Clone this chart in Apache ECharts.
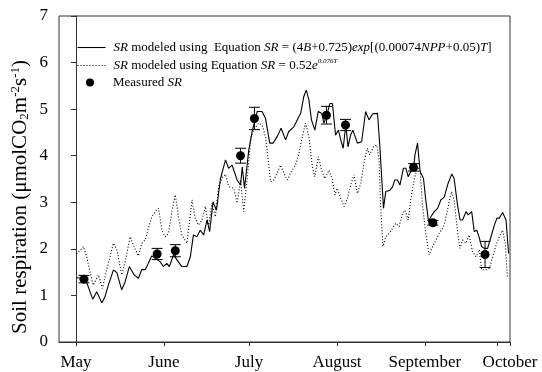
<!DOCTYPE html>
<html>
<head>
<meta charset="utf-8">
<script src="https://cdn.jsdelivr.net/npm/echarts@6/dist/echarts.min.js"></script>
<style>html,body{margin:0;padding:0;background:#fff;}#c{width:542px;height:372px;}</style>
</head>
<body>
<div id="c"></div>
<script>
// Days counted from May 1 (day 0)
const monthTicks = [0, 31, 61, 92, 123, 153];
const monthLabels = ['May', 'June', 'July', 'August', 'September', 'October'];
const tickValues = [0, 31, 61, 92, 123, 148.5, 153];

const solidDays = [0.2,3.2,5.9,7.3,9.1,10.2,11.4,13.2,14.4,16.1,17.3,18.8,20.5,22,23.2,24.4,25.5,26.7,27.9,29.7,30.8,32,32.9,34.4,36.1,37.3,39.1,40.3,41.4,42.6,43.8,45,46.2,47.1,48.3,49.5,50.9,52.7,53.8,55,56.8,58,58.6,59.4,60.9,62.1,63.9,65.6,66.8,68.3,69.5,70.9,72.3,73.9,75,76.8,78.6,79.2,80.3,81.2,82.1,83,84.2,85.4,86.6,87.4,88.3,89.5,90.4,91.5,92.5,93.5,94.2,95.1,95.9,96.8,97.6,99.2,100.7,102.1,103.3,104.6,106.3,107.2,108.4,109.2,110.7,111.6,112.4,113.3,114.2,115.4,116.3,117.1,118,119,119.5,120.4,121.3,122.5,123.3,124.3,125.1,126.3,127.5,128.6,129.8,131.2,132.5,133.3,134.5,135.4,136.3,137.5,138.3,139.5,140.4,141.3,142.2,143,143.9,145.1,146.3,147.5,148.4,149.2,150.4,151.6,152.5];
const solidVals = [1.38,1.37,0.92,1.08,0.84,0.97,1.22,1.55,1.49,1.12,1.29,1.62,1.44,1.37,1.56,1.55,1.69,1.85,1.80,1.72,1.62,1.69,1.62,1.87,1.72,1.62,1.62,1.83,2.30,2.26,2.40,2.30,2.62,2.37,3.01,2.83,3.50,3.91,3.73,3.80,3.48,3.37,3.76,3.30,4.12,4.52,4.95,4.95,4.80,4.27,4.27,4.41,4.59,4.34,4.52,4.62,4.84,4.91,5.27,5.41,5.20,4.77,4.55,4.95,4.91,4.70,4.85,5.12,5.12,4.44,4.55,4.30,4.16,4.66,4.19,4.44,4.55,4.27,4.30,4.95,4.77,4.90,4.91,4.12,2.87,3.23,3.26,3.33,3.48,3.48,3.37,3.73,3.73,3.55,3.66,3.74,4.02,4.27,3.66,3.51,3.05,2.58,2.69,2.80,2.87,3.05,3.11,3.41,3.61,3.51,2.94,2.62,2.62,2.80,2.73,2.80,2.37,2.40,2.23,2.05,2.01,2.01,2.26,2.51,2.66,2.66,2.78,2.62,1.90];

const dottedDays = [0.2,2.6,3.8,4.9,6.1,7.9,9.3,10.8,13.2,14.4,16.1,17.3,19.1,20.2,22,23.2,24.4,25.5,26.7,27.9,29.1,30.3,31.4,32.6,33.8,35,36.1,37.3,39.1,40.9,42,43.2,44.4,45.6,46.7,47.9,49.1,50.3,51.7,52.7,53.8,55.6,56.8,58,59.1,60.3,61.7,62.6,64.4,65.6,66.8,67.7,68.6,69.7,70.9,72.1,73.3,74.5,75.9,77.4,78.6,79.8,80.9,81.5,82.1,83.3,84.2,85.4,86.6,87.7,89.2,90.4,91.3,92.1,93.3,94.5,95.7,96.8,98,99.2,100.4,101.5,102.7,103.5,105.1,106,106.8,107.4,108.2,109.2,110.4,111.6,112.7,113.9,115.1,116,117.1,118,119.2,120.4,121.3,122.2,123.3,124.5,125.7,126.9,128,129.2,129.8,131.2,132.4,133.3,134.3,135.3,136.3,137.5,138.6,139.8,141,142.2,143,144.5,145.7,146.9,148.1,149.2,150.4,151.3,152.1];
const dottedVals = [1.89,2.05,1.83,1.51,1.22,1.44,1.15,1.55,2.12,1.98,1.44,1.72,2.26,2.08,1.85,2.12,2.19,2.44,2.69,2.80,2.87,2.40,2.26,2.33,2.80,3.16,2.69,2.30,2.12,3.05,2.66,2.51,2.62,2.91,2.48,2.98,2.69,3.34,3.55,3.60,3.34,3.30,2.98,3.48,2.80,3.48,4.41,4.55,4.70,4.66,4.41,3.94,3.44,3.48,3.62,3.80,3.62,3.48,3.66,3.80,4.05,4.41,4.70,4.73,4.41,3.77,3.55,3.98,3.69,3.51,3.69,3.48,3.16,3.30,3.09,2.91,3.09,3.37,3.59,3.19,3.41,3.84,4.16,4.02,4.21,4.23,3.94,2.91,2.05,2.26,2.33,2.44,2.55,2.48,2.76,2.83,2.62,3.05,3.48,3.77,3.66,2.91,2.33,1.87,2.05,2.19,2.33,2.44,2.51,2.91,3.23,3.05,2.48,2.01,2.19,2.12,2.30,1.94,1.83,1.98,1.55,1.55,1.58,1.83,2.08,2.26,2.40,2.12,1.40];

const measDays = [2.8, 28.6, 35, 58, 62.9, 88.3, 95, 119, 125.8, 144.2];
const measVals = [1.35, 1.89, 1.96, 4.0, 4.8, 4.87, 4.66, 3.75, 2.56, 1.88];
const measErr  = [0.08, 0.12, 0.13, 0.16, 0.24, 0.19, 0.12, 0.08, 0.05, 0.28];

const FONT = '"Liberation Serif", "Times New Roman", serif';
const zip = (a, b) => a.map((v, i) => [v, b[i]]);

const chart = echarts.init(document.getElementById('c'), null, {renderer: 'canvas'});
const italic = {fontFamily: FONT, fontStyle: 'italic', fontSize: 13, color: '#000'};
const legendBase = {left: 77, padding: 0, itemWidth: 28, itemHeight: 14, selectedMode: false,
  itemStyle: {opacity: 0}, lineStyle: {width: 1.1}};
chart.setOption({
  backgroundColor: '#fff',
  animation: false,
  grid: {left: 59, right: 32, top: 16, bottom: 30, show: true, borderColor: '#333', borderWidth: 1, backgroundColor: 'transparent'},
  xAxis: {
    type: 'value', min: -6, max: 153,
    splitLine: {show: false},
    axisLine: {lineStyle: {color: '#333', width: 1}},
    axisTick: {show: true, length: 4, customValues: tickValues, lineStyle: {color: '#333'}},
    axisLabel: {
      customValues: monthTicks, margin: 12, color: '#000', fontFamily: FONT, fontSize: 17,
      formatter: v => monthLabels[monthTicks.indexOf(v)] || ''
    }
  },
  yAxis: {
    type: 'value', min: 0, max: 7, interval: 1,
    splitLine: {show: false},
    axisLine: {show: true, lineStyle: {color: '#333', width: 1}},
    axisTick: {show: true, length: 5, lineStyle: {color: '#333'}},
    axisLabel: {margin: 11, color: '#000', fontFamily: FONT, fontSize: 17}
  },
  legend: [
    Object.assign({}, legendBase, {top: 41, data: ['s1'],
     textStyle: {fontFamily: FONT, fontSize: 13, color: '#000', padding: [0, 0, 0, 3], rich: {i: italic}},
     formatter: () => '{i|SR} modeled using  Equation {i|SR} = (4{i|B}+0.725){i|exp}[(0.00074{i|NPP}+0.05){i|T}]'}),
    Object.assign({}, legendBase, {top: 58, data: ['s2'],
     textStyle: {fontFamily: FONT, fontSize: 13, color: '#000', padding: [0, 0, 0, 3], rich: {i: italic, sup: {fontFamily: FONT, fontStyle: 'italic', fontSize: 7, color: '#000', verticalAlign: 'top', padding: [0, 0, 8, 0]}}},
     formatter: () => '{i|SR} modeled using Equation {i|SR} = 0.52{i|e}{sup|0.076T}'}),
    {left: 86, top: 76, padding: 0, itemWidth: 8, itemHeight: 8, data: ['s3'], selectedMode: false,
     itemStyle: {opacity: 1},
     textStyle: {fontFamily: FONT, fontSize: 13, color: '#000', padding: [0, 0, 0, 14], rich: {i: italic}},
     formatter: () => 'Measured {i|SR}'}
  ],
  graphic: [{
    type: 'text', x: 20, y: 197, rotation: Math.PI / 2,
    style: {
      text: 'Soil respiration (μmolCO{sub|2}m{sup|-2}s{sup|-1})',
      fontFamily: FONT, fontSize: 21, fill: '#000', align: 'center', verticalAlign: 'middle',
      rich: {
        sub: {fontFamily: FONT, fontSize: 13, fill: '#000', verticalAlign: 'bottom', padding: [7, 0, 0, 0]},
        sup: {fontFamily: FONT, fontSize: 13, fill: '#000', verticalAlign: 'top', padding: [0, 0, 9, 0]}
      }
    }
  }],
  series: [
    {name: 's1', type: 'line', data: zip(solidDays, solidVals), symbol: 'none', smooth: false,
     lineStyle: {color: '#000', width: 1.1}, itemStyle: {color: '#000'}, z: 2},
    {name: 's2', type: 'line', data: zip(dottedDays, dottedVals), symbol: 'none', smooth: false,
     lineStyle: {color: '#000', width: 1.1, type: [1, 2]}, itemStyle: {color: '#000'}, z: 2},
    {name: 'err', type: 'custom', z: 3,
     data: measDays.map((d, i) => [d, measVals[i], measErr[i]]),
     renderItem: (params, api) => {
       const x = api.value(0), y = api.value(1), e = api.value(2);
       const t = api.coord([x, y + e]), b = api.coord([x, y - e]);
       const hw = 5.5, st = {stroke: '#000', lineWidth: 1};
       return {type: 'group', children: [
         {type: 'line', shape: {x1: t[0], y1: t[1], x2: b[0], y2: b[1]}, style: st},
         {type: 'line', shape: {x1: t[0] - hw, y1: t[1], x2: t[0] + hw, y2: t[1]}, style: st},
         {type: 'line', shape: {x1: b[0] - hw, y1: b[1], x2: b[0] + hw, y2: b[1]}, style: st}
       ]};
     }},
    {name: 's3', type: 'scatter', data: zip(measDays, measVals), symbol: 'circle', symbolSize: 9,
     itemStyle: {color: '#000', opacity: 1}, z: 4}
  ]
});
</script>
</body>
</html>
